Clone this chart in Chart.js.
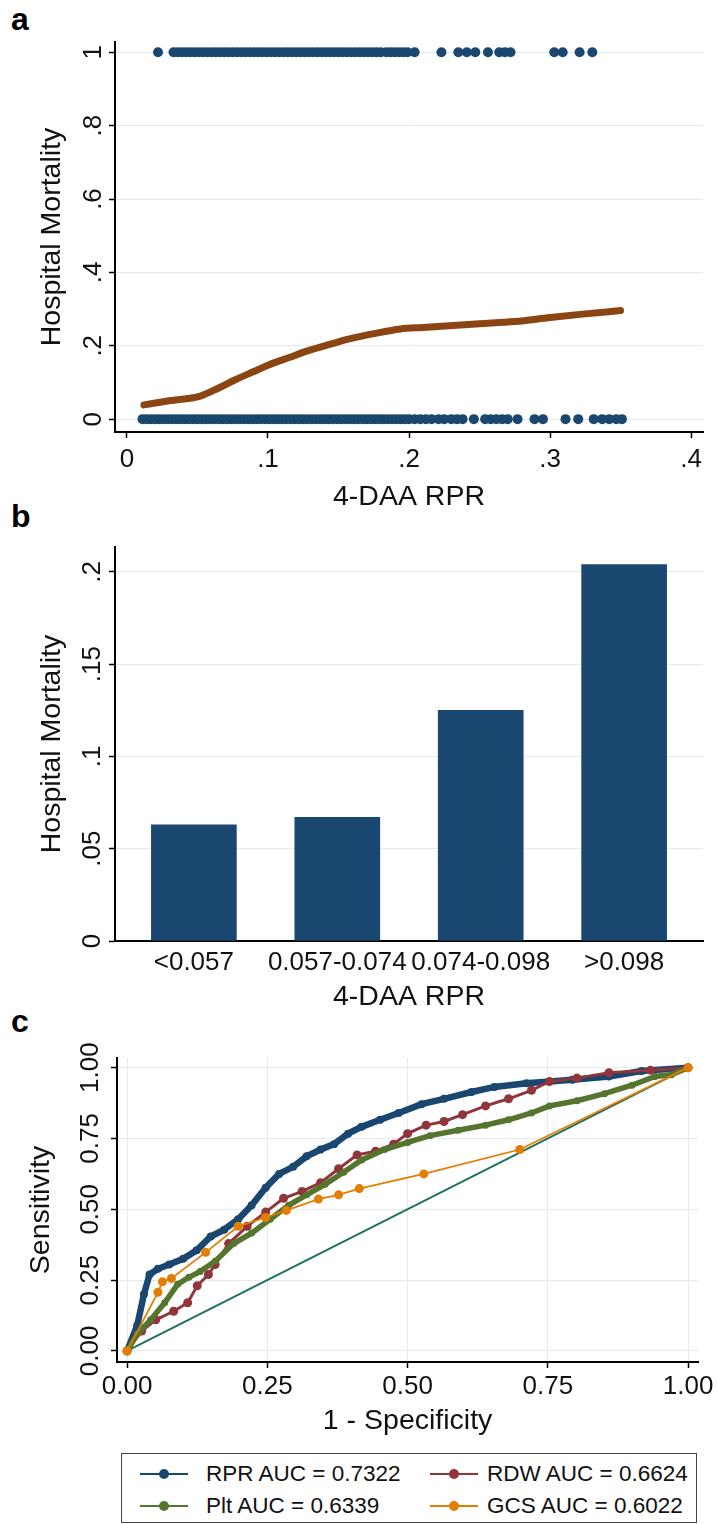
<!DOCTYPE html>
<html>
<head>
<meta charset="utf-8">
<script src="https://cdn.jsdelivr.net/npm/chart.js@4.4.1/dist/chart.umd.min.js"></script>
<style>
  body { margin: 0; background: #fff; width: 717px; height: 1524px; position: relative; font-family: "Liberation Sans", Arial, sans-serif; }
  canvas { position: absolute; left: 0; }
  .tag { position: absolute; left: 11px; font-weight: bold; font-size: 32px; line-height: 32px; color: #000; }
  #legend { position: absolute; left: 121px; top: 1453px; width: 576px; height: 70px; border: 1.5px solid #444; box-sizing: border-box; }
  .item { position: absolute; font-size: 22.5px; line-height: 26px; color: #111; white-space: nowrap; }
  .swatch { position: absolute; height: 2px; width: 48px; }
  .swatch i { position: absolute; left: 19px; top: -4px; width: 10px; height: 10px; border-radius: 50%; }
</style>
</head>
<body>
<div class="tag" style="top:3px">a</div>
<div class="tag" style="top:500px">b</div>
<div class="tag" style="top:1005px">c</div>
<canvas id="chartA" width="717" height="514" style="top:0"></canvas>
<canvas id="chartB" width="717" height="504" style="top:510px"></canvas>
<canvas id="chartC" width="717" height="428" style="top:1014px"></canvas>
<div id="legend"></div>

<script>
// panel a: hospital mortality (0/1) against 4-DAA RPR, with lowess
const aXTicks = [0, 0.1, 0.2, 0.3, 0.4];
const aXLabels = ['0', '.1', '.2', '.3', '.4'];
const aYTicks = [0, 0.2, 0.4, 0.6, 0.8, 1];
const aYLabels = ['0', '.2', '.4', '.6', '.8', '1'];
const aDiedX = [0.022, 0.033, 0.036, 0.039, 0.042, 0.045, 0.048, 0.051, 0.054, 0.057, 0.060, 0.063, 0.066, 0.069, 0.072,
  0.075, 0.078, 0.081, 0.084, 0.087, 0.090, 0.093, 0.096, 0.099, 0.102, 0.105, 0.108, 0.111, 0.114, 0.117, 0.120, 0.123,
  0.126, 0.129, 0.132, 0.135, 0.138, 0.141, 0.144, 0.147, 0.150, 0.153, 0.156, 0.159, 0.162, 0.165, 0.168, 0.171, 0.174,
  0.177, 0.180, 0.184, 0.187, 0.190, 0.193, 0.196, 0.199, 0.204, 0.223, 0.235, 0.241, 0.247, 0.256, 0.264, 0.268, 0.272,
  0.303, 0.309, 0.321, 0.330];
const aSurvX = [0.011, 0.014, 0.017, 0.020, 0.023, 0.026, 0.029, 0.032, 0.035, 0.038, 0.041, 0.044, 0.047, 0.050, 0.053,
  0.056, 0.059, 0.062, 0.065, 0.068, 0.071, 0.074, 0.077, 0.080, 0.083, 0.086, 0.089, 0.092, 0.095, 0.098, 0.101, 0.104,
  0.107, 0.110, 0.113, 0.116, 0.119, 0.122, 0.125, 0.128, 0.131, 0.134, 0.137, 0.140, 0.143, 0.146, 0.149, 0.152, 0.155,
  0.158, 0.161, 0.164, 0.167, 0.170, 0.173, 0.176, 0.179, 0.182, 0.185, 0.188, 0.191, 0.194, 0.197, 0.200, 0.204, 0.208,
  0.212, 0.216, 0.221, 0.225, 0.230, 0.234, 0.238, 0.246, 0.254, 0.258, 0.262, 0.266, 0.270, 0.277, 0.289, 0.295, 0.311,
  0.320, 0.331, 0.337, 0.342, 0.347, 0.351];
const aLowX = [0.012, 0.03, 0.052, 0.065, 0.076, 0.09, 0.1, 0.115, 0.128, 0.145, 0.157, 0.175, 0.194, 0.21, 0.226, 0.25, 0.275, 0.3, 0.325, 0.35];
const aLowY = [0.039, 0.05, 0.063, 0.085, 0.106, 0.13, 0.147, 0.168, 0.186, 0.205, 0.218, 0.233, 0.246, 0.25, 0.254, 0.26, 0.266, 0.277, 0.287, 0.296];

// panel b: mortality by RPR quartile
const bCats = ['<0.057', '0.057-0.074', '0.074-0.098', '>0.098'];
const bValues = [0.063, 0.067, 0.125, 0.204];
const bYTicks = [0, 0.05, 0.1, 0.15, 0.2];
const bYLabels = ['0', '.05', '.1', '.15', '.2'];

// panel c: ROC curves
const cTicks = [0, 0.25, 0.5, 0.75, 1];
const cLabels = ['0.00', '0.25', '0.50', '0.75', '1.00'];
const rprX = [0, 0.018, 0.03, 0.04, 0.055, 0.075, 0.1, 0.124, 0.149, 0.173, 0.198, 0.222, 0.247, 0.271, 0.296, 0.32, 0.345, 0.369, 0.394, 0.418, 0.451, 0.484, 0.525, 0.565, 0.614, 0.655, 0.712, 0.794, 0.859, 0.917, 1];
const rprY = [0, 0.09, 0.2, 0.27, 0.29, 0.305, 0.325, 0.355, 0.404, 0.428, 0.465, 0.514, 0.576, 0.625, 0.65, 0.687, 0.711, 0.73, 0.767, 0.791, 0.816, 0.84, 0.871, 0.89, 0.914, 0.932, 0.945, 0.957, 0.969, 0.988, 1];
const rdwX = [0, 0.026, 0.051, 0.083, 0.108, 0.125, 0.145, 0.157, 0.181, 0.214, 0.247, 0.279, 0.312, 0.345, 0.377, 0.41, 0.443, 0.475, 0.5, 0.533, 0.565, 0.598, 0.639, 0.68, 0.721, 0.753, 0.802, 0.859, 0.933, 1];
const rdwY = [0, 0.07, 0.11, 0.14, 0.17, 0.23, 0.27, 0.305, 0.379, 0.44, 0.49, 0.539, 0.563, 0.594, 0.643, 0.692, 0.705, 0.73, 0.767, 0.797, 0.81, 0.834, 0.865, 0.89, 0.92, 0.951, 0.963, 0.982, 0.991, 1];
const pltX = [0, 0.018, 0.042, 0.067, 0.09, 0.11, 0.13, 0.157, 0.19, 0.222, 0.255, 0.288, 0.32, 0.353, 0.386, 0.418, 0.459, 0.5, 0.54, 0.59, 0.639, 0.68, 0.721, 0.753, 0.802, 0.851, 0.9, 0.941, 0.97, 1];
const pltY = [0, 0.06, 0.11, 0.17, 0.235, 0.26, 0.28, 0.317, 0.379, 0.416, 0.465, 0.514, 0.551, 0.588, 0.631, 0.674, 0.711, 0.736, 0.76, 0.779, 0.797, 0.816, 0.84, 0.865, 0.883, 0.908, 0.938, 0.969, 0.975, 1];
const gcsX = [0, 0.055, 0.063, 0.079, 0.14, 0.198, 0.247, 0.284, 0.341, 0.377, 0.414, 0.529, 0.7, 1];
const gcsY = [0, 0.207, 0.244, 0.256, 0.348, 0.44, 0.471, 0.496, 0.536, 0.551, 0.573, 0.625, 0.711, 1];
const refX = [0, 1];
const refY = [0, 1];
const cNames = ['RPR AUC = 0.7322', 'RDW AUC = 0.6624', 'Plt AUC = 0.6339', 'GCS AUC = 0.6022'];

const NAVY = '#1a476f';
const MAROON = '#90353b';
const GREEN = '#55752f';
const ORANGE = '#e37e00';
const TEAL = '#22705f';
const BROWN = '#8b4513';
const GRID = '#e3ebef';

Chart.defaults.font.family = '"Liberation Sans", Arial, sans-serif';
Chart.defaults.color = '#111';

const pts = (xs, ys) => xs.map((x, i) => ({ x: x, y: ys[i] }));
const setTicks = values => scale => { scale.ticks = values.map(v => ({ value: v })); };
const fixSize = size => scale => { if (scale.isHorizontal()) scale.height = size; else scale.width = size; };

function xAxis(o) {
  return {
    type: 'linear', min: o.min, max: o.max, offset: false,
    afterBuildTicks: setTicks(o.ticks), afterFit: fixSize(o.size),
    grid: { display: o.drawTicks || o.grid, drawOnChartArea: !!o.grid, color: GRID, drawTicks: !!o.drawTicks, tickLength: 6, tickColor: '#000', tickWidth: 1.5, offset: false },
    border: { display: true, color: '#000', width: 2 },
    ticks: { callback: (v, i) => o.labels[i], font: { size: 26 }, padding: o.pad, maxRotation: 0, autoSkip: false, color: '#111' },
    title: { display: true, text: o.title, font: { size: 28.5 }, color: '#111', padding: { top: 0, bottom: o.titlePad } }
  };
}

function yAxis(o) {
  return {
    type: 'linear', min: o.min, max: o.max,
    afterBuildTicks: setTicks(o.ticks), afterFit: fixSize(o.size),
    grid: { color: GRID, drawTicks: true, tickLength: 6, tickColor: '#000', tickWidth: 1.5 },
    border: { display: true, color: '#000', width: 2 },
    ticks: { callback: (v, i) => o.labels[i], font: { size: 26 }, padding: o.pad, minRotation: 90, maxRotation: 90, crossAlign: 'center', autoSkip: false, color: '#111' },
    title: { display: true, text: o.title, font: { size: 28.5 }, color: '#111', padding: { top: o.titlePad, bottom: 0 } }
  };
}

const base = {
  responsive: false, animation: false, events: [],
  plugins: { legend: { display: false }, tooltip: { enabled: false } }
};

// a
new Chart(document.getElementById('chartA'), {
  type: 'scatter',
  data: {
    datasets: [
      { label: 'lowess', data: pts(aLowX, aLowY), showLine: true, borderColor: BROWN, borderWidth: 7, pointRadius: 0,
        cubicInterpolationMode: 'monotone', borderCapStyle: 'round' },
      { label: 'died', data: aDiedX.map(x => ({ x: x, y: 1 })), pointRadius: 5, pointBackgroundColor: NAVY, pointBorderWidth: 0 },
      { label: 'survived', data: aSurvX.map(x => ({ x: x, y: 0 })), pointRadius: 5, pointBackgroundColor: NAVY, pointBorderWidth: 0 }
    ]
  },
  options: Object.assign({}, base, {
    layout: { padding: { left: 0, right: 14, top: 42, bottom: 0 } },
    scales: {
      x: xAxis({ min: -0.0085, max: 0.4085, ticks: aXTicks, labels: aXLabels, size: 82, pad: 6.4, drawTicks: true, title: '4-DAA RPR', titlePad: 0 }),
      y: yAxis({ min: -0.035, max: 1.028, ticks: aYTicks, labels: aYLabels, size: 115, pad: 4.2, title: 'Hospital Mortality', titlePad: 34.9 })
    }
  })
});

// b
new Chart(document.getElementById('chartB'), {
  type: 'bar',
  data: {
    datasets: [{ data: pts([0, 1, 2, 3], bValues), backgroundColor: NAVY, barThickness: 85 }]
  },
  options: Object.assign({}, base, {
    layout: { padding: { left: 0, right: 14, top: 37, bottom: 0 } },
    scales: {
      x: xAxis({ min: -0.55, max: 3.55, ticks: [0, 1, 2, 3], labels: bCats, size: 73, pad: 6.4, drawTicks: false, title: '4-DAA RPR', titlePad: 0 }),
      y: yAxis({ min: 0, max: 0.2135, ticks: bYTicks, labels: bYLabels, size: 115, pad: -2.1, title: 'Hospital Mortality', titlePad: 34.9 })
    }
  })
});

// c
const roc = (label, xs, ys, color, lw, r, order) => ({
  label: label, data: pts(xs, ys), showLine: true, borderColor: color, borderWidth: lw,
  pointRadius: r, pointBackgroundColor: color, pointBorderWidth: 0, order: order
});

const chartC = new Chart(document.getElementById('chartC'), {
  type: 'scatter',
  data: {
    datasets: [
      roc(cNames[0], rprX, rprY, NAVY, 6.5, 4, 3),
      roc(cNames[1], rdwX, rdwY, MAROON, 3, 4.5, 2),
      roc(cNames[2], pltX, pltY, GREEN, 5.5, 3.5, 1),
      roc(cNames[3], gcsX, gcsY, ORANGE, 1.8, 4.5, 0),
      roc('Reference', refX, refY, TEAL, 2, 0, 4)
    ]
  },
  options: Object.assign({}, base, {
    layout: { padding: { left: 0, right: 14, top: 44, bottom: 0 } },
    scales: {
      x: xAxis({ min: -0.018, max: 1.018, ticks: cTicks, labels: cLabels, size: 80, pad: 3.4, drawTicks: true, grid: true, title: '1 - Specificity', titlePad: 3.9 }),
      y: yAxis({ min: -0.039, max: 1.034, ticks: cTicks, labels: cLabels, size: 117, pad: -5.3, title: 'Sensitivity', titlePad: 23.9 })
    }
  })
});

// legend built from the ROC datasets
const legend = document.getElementById('legend');
const colX = [[18, 84], [308, 365]];
const rowY = [20, 52];
chartC.data.datasets.filter(d => d.label !== 'Reference').forEach((d, i) => {
  const c = colX[i % 2], r = rowY[Math.floor(i / 2)];
  const sw = document.createElement('div');
  sw.className = 'swatch';
  sw.style.left = c[0] + 'px';
  sw.style.top = (r - 1) + 'px';
  sw.style.background = d.borderColor;
  sw.innerHTML = '<i style="background:' + d.borderColor + '"></i>';
  legend.appendChild(sw);
  const t = document.createElement('div');
  t.className = 'item';
  t.style.left = c[1] + 'px';
  t.style.top = (r - 13) + 'px';
  t.textContent = d.label;
  legend.appendChild(t);
});
</script>
</body>
</html>
